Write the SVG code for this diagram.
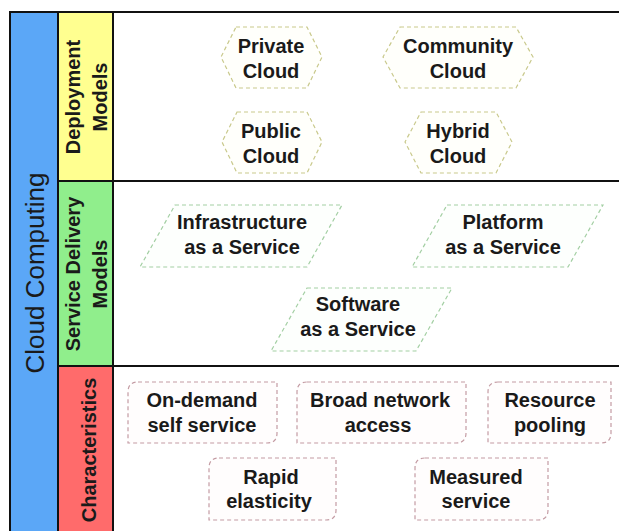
<svg xmlns="http://www.w3.org/2000/svg" width="619" height="531" viewBox="0 0 619 531">
  <style>
    .lbl { font-family: "Liberation Sans", Arial, sans-serif; font-weight: bold; font-size: 20px; fill: #1a1a1a; text-anchor: middle; }
    .side { font-family: "Liberation Sans", Arial, sans-serif; font-weight: bold; font-size: 20px; fill: #1a1a1a; text-anchor: middle; }
    .main { font-family: "Liberation Sans", Arial, sans-serif; font-size: 26px; fill: #1a1a1a; text-anchor: middle; }
    .frame { stroke: #111; stroke-width: 2; fill: none; }
    .hex { fill: #fffffb; stroke: #c9c98c; stroke-width: 1.2; stroke-dasharray: 4 3; }
    .para { fill: #fdfffd; stroke: #a3cfa3; stroke-width: 1.2; stroke-dasharray: 4 3; }
    .rnd { fill: #fffdfd; stroke: #c49ca4; stroke-width: 1.2; stroke-dasharray: 4 3; }
  </style>

  <rect width="619" height="531" fill="#ffffff"/>

  <!-- side bands -->
  <rect x="10" y="12" width="48" height="519" fill="#5ba7f7"/>
  <rect x="58" y="12" width="55" height="169" fill="#ffff90"/>
  <rect x="58" y="181" width="55" height="185" fill="#90ee8c"/>
  <rect x="58" y="366" width="55" height="165" fill="#ff6b6b"/>

  <!-- frame lines -->
  <g id="frame" class="frame">
    <line x1="10" y1="12" x2="619" y2="12"/>
    <line x1="10" y1="11" x2="10" y2="531"/>
    <line x1="58" y1="12" x2="58" y2="531"/>
    <line x1="113" y1="12" x2="113" y2="531"/>
    <line x1="58" y1="181" x2="619" y2="181"/>
    <line x1="58" y1="366" x2="619" y2="366"/>
  </g>

  <!-- band titles -->
  <text class="main" transform="translate(44,273) rotate(-90)">Cloud Computing</text>
  <text class="side" transform="translate(80,97) rotate(-90)"><tspan x="0" y="0">Deployment</tspan><tspan x="0" y="27">Models</tspan></text>
  <text class="side" transform="translate(80,274) rotate(-90)"><tspan x="0" y="0">Service Delivery</tspan><tspan x="0" y="27">Models</tspan></text>
  <text class="side" transform="translate(96,450) rotate(-90)">Characteristics</text>

  <!-- deployment models -->
  <g id="private-cloud">
    <polygon class="hex" points="236,27 307,27 322,57 307,88 236,88 221,57"/>
    <text class="lbl" x="271" y="53">Private</text>
    <text class="lbl" x="271" y="78">Cloud</text>
  </g>
  <g id="community-cloud">
    <polygon class="hex" points="400,27 516,27 533,57 516,88 400,88 383,57"/>
    <text class="lbl" x="458" y="53">Community</text>
    <text class="lbl" x="458" y="78">Cloud</text>
  </g>
  <g id="public-cloud">
    <polygon class="hex" points="237,112 307,112 322,142 307,173 237,173 222,142"/>
    <text class="lbl" x="271" y="138">Public</text>
    <text class="lbl" x="271" y="163">Cloud</text>
  </g>
  <g id="hybrid-cloud">
    <polygon class="hex" points="421,112 496,112 512,142 496,173 421,173 405,142"/>
    <text class="lbl" x="458" y="138">Hybrid</text>
    <text class="lbl" x="458" y="163">Cloud</text>
  </g>

  <!-- service delivery models -->
  <g id="iaas">
    <polygon class="para" points="175,205 342,205 307,267 140,267"/>
    <text class="lbl" x="242" y="229">Infrastructure</text>
    <text class="lbl" x="242" y="254">as a Service</text>
  </g>
  <g id="paas">
    <polygon class="para" points="447,205 603,205 568,267 412,267"/>
    <text class="lbl" x="503" y="229">Platform</text>
    <text class="lbl" x="503" y="254">as a Service</text>
  </g>
  <g id="saas">
    <polygon class="para" points="307,288 452,288 416,351 271,351"/>
    <text class="lbl" x="358" y="311">Software</text>
    <text class="lbl" x="358" y="336">as a Service</text>
  </g>

  <!-- characteristics -->
  <g id="on-demand">
    <path class="rnd" d="M138,382 H277 V433 Q277,443 267,443 H128 V392 Q128,382 138,382 Z"/>
    <text class="lbl" x="202" y="407">On-demand</text>
    <text class="lbl" x="202" y="432">self service</text>
  </g>
  <g id="broad-network">
    <path class="rnd" d="M307,382 H466 V433 Q466,443 456,443 H297 V392 Q297,382 307,382 Z"/>
    <text class="lbl" x="380" y="407">Broad network</text>
    <text class="lbl" x="378" y="432">access</text>
  </g>
  <g id="resource-pooling">
    <path class="rnd" d="M498,382 H611 V433 Q611,443 601,443 H488 V392 Q488,382 498,382 Z"/>
    <text class="lbl" x="550" y="407">Resource</text>
    <text class="lbl" x="550" y="432">pooling</text>
  </g>
  <g id="rapid-elasticity">
    <path class="rnd" d="M219,458 H336 V510 Q336,520 326,520 H209 V468 Q209,458 219,458 Z"/>
    <text class="lbl" x="271" y="484">Rapid</text>
    <text class="lbl" x="269" y="508">elasticity</text>
  </g>
  <g id="measured-service">
    <path class="rnd" d="M425,458 H548 V510 Q548,520 538,520 H415 V468 Q415,458 425,458 Z"/>
    <text class="lbl" x="476" y="484">Measured</text>
    <text class="lbl" x="476" y="508">service</text>
  </g>
</svg>
